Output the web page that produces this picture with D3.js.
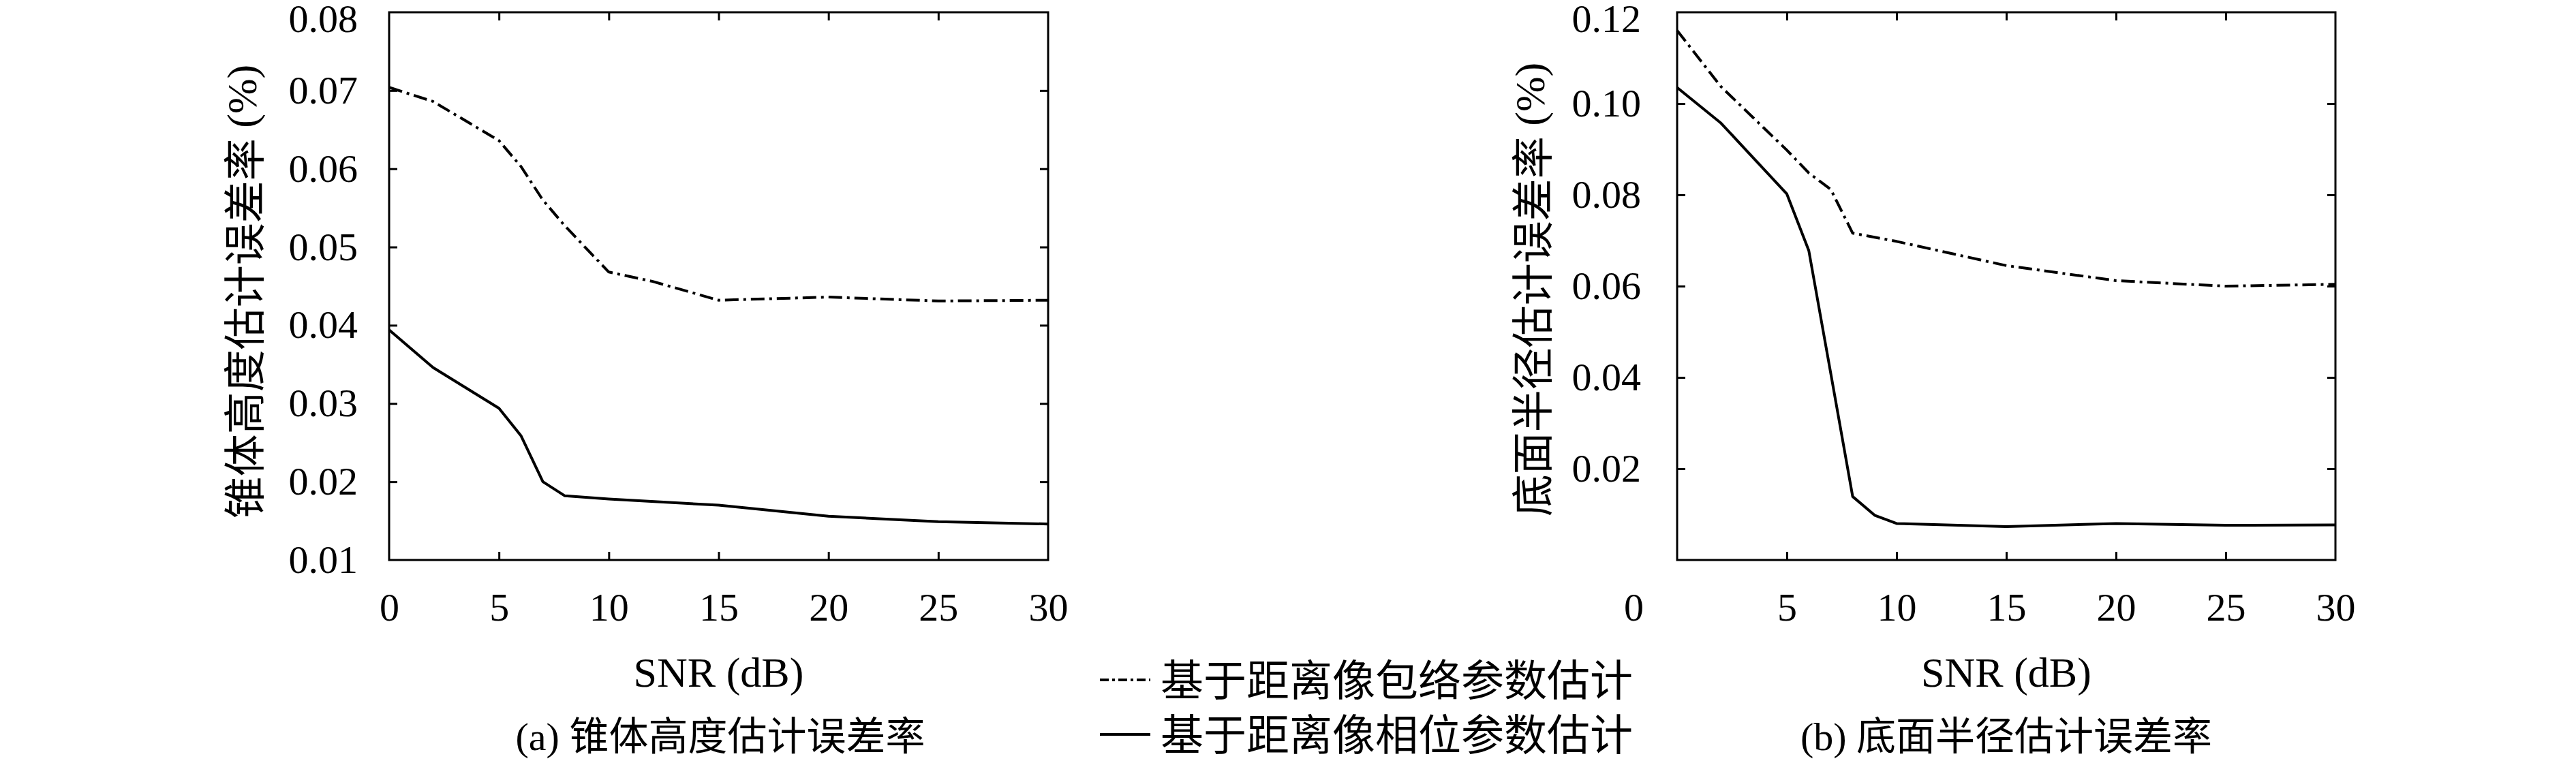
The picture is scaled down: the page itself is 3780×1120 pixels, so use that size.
<!DOCTYPE html>
<html>
  <head>
    <meta charset="utf-8">
    <script src="https://d3js.org/d3.v7.min.js"></script>
    <style>
      body { margin: 0; background: #fff; }
      .tick text { font-family: "Liberation Serif", serif; font-size: 58px; fill: #000; }
      .tick line { stroke: #000; stroke-width: 3px; }
      .frame { fill: none; stroke: #000; stroke-width: 3px; }
      .line { fill: none; stroke: #000; stroke-width: 4px; stroke-linejoin: round; }
      .envelope { stroke-dasharray: 20,7,4,7; }
      .serif { font-family: "Liberation Serif", serif; }
      .cjk { font-family: "Noto Sans CJK SC", sans-serif; }
    </style>
  </head>
  <body>
    <svg width="3780" height="1120"></svg>
    <script>
    // data
    var xTicks = [0, 5, 10, 15, 20, 25, 30];
    var yTicksA = [0.01, 0.02, 0.03, 0.04, 0.05, 0.06, 0.07, 0.08];
    var yTicksB = [0, 0.02, 0.04, 0.06, 0.08, 0.10, 0.12];

    var snrA_env = [0, 2, 5, 6, 7, 8, 10, 12, 15, 20, 25, 30];
    var errA_env = [0.0704, 0.0686, 0.0636, 0.0603, 0.0560, 0.0527, 0.0468, 0.0456, 0.0432, 0.0436, 0.0431, 0.0432];
    var snrA_phase = [0, 2, 5, 6, 7, 8, 10, 15, 20, 25, 30];
    var errA_phase = [0.0394, 0.0346, 0.0294, 0.0259, 0.0200, 0.0182, 0.0178, 0.0170, 0.0156, 0.0149, 0.0146];

    var snrB_env = [0, 2, 5, 6, 7, 8, 10, 15, 20, 25, 30];
    var errB_env = [0.1160, 0.1037, 0.0898, 0.0848, 0.0812, 0.0716, 0.0698, 0.0645, 0.0612, 0.0600, 0.0604];
    var snrB_phase = [0, 2, 5, 6, 7, 8, 9, 10, 15, 20, 25, 30];
    var errB_phase = [0.1035, 0.0957, 0.0802, 0.0678, 0.0409, 0.0139, 0.0098, 0.0080, 0.0073, 0.0080, 0.0076, 0.0077];

    var legendLabels = ["基于距离像包络参数估计", "基于距离像相位参数估计"];

    var svg = d3.select("svg");
    svg.append("rect").attr("width", 3780).attr("height", 1120).attr("fill", "#fff");

    function zip(xs, ys) {
      return xs.map(function(d, i) { return {snr: d, err: ys[i]}; });
    }

    function panel(p) {
      var width = p.x1 - p.x0, height = 822 - 18;
      var g = svg.append("g").attr("transform", "translate(" + p.x0 + ",18)");

      var x = d3.scaleLinear().domain([0, 30]).range([0, width]),
          y = d3.scaleLinear().domain(p.yDomain).range([height, 0]);

      var line = d3.line()
                   .x(function(d) { return x(d.snr); })
                   .y(function(d) { return y(d.err); });

      // bottom axis with labels, ticks pointing in
      var xb = g.append("g")
          .attr("transform", "translate(0," + height + ")")
          .call(d3.axisBottom(x).tickValues(xTicks).tickSize(-12).tickSizeOuter(0).tickPadding(48));
      xb.selectAll(".tick line").filter(function(d) { return d === 0 || d === 30; }).remove();
      if (p.zeroShift) {
        xb.selectAll(".tick text").filter(function(d) { return d === 0; })
          .attr("x", p.zeroShift);
      }

      g.append("g")
          .call(d3.axisTop(x).tickValues(xTicks.slice(1, -1)).tickSize(-12).tickSizeOuter(0).tickFormat(""));

      var yl = g.append("g")
          .call(d3.axisLeft(y).tickValues(p.yTicks).tickSize(-12).tickSizeOuter(0)
                .tickPadding(p.yPad).tickFormat(d3.format(".2f")));
      if (p.hideZero) {
        yl.selectAll(".tick text").filter(function(d) { return d === 0; }).remove();
      }
      yl.selectAll(".tick text").filter(function(d) { return d === p.yDomain[1]; })
        .attr("dy", "0.32em").attr("y", 10);

      g.append("g")
          .attr("transform", "translate(" + width + ",0)")
          .call(d3.axisRight(y).tickValues(p.yTicks).tickSize(-12).tickSizeOuter(0).tickFormat(""));

      g.selectAll(".domain").remove();
      g.selectAll(".tick line").filter(function(d) {
        return d === p.yDomain[0] || d === p.yDomain[1];
      }).remove();

      g.append("rect").attr("class", "frame").attr("width", width).attr("height", height);

      g.append("path").datum(zip(p.envX, p.envY))
          .attr("class", "line envelope")
          .attr("d", line);
      g.append("path").datum(zip(p.phX, p.phY))
          .attr("class", "line")
          .attr("d", line);

      // axis titles
      g.append("text")
          .attr("class", "serif")
          .attr("x", width / 2).attr("y", 1008 - 18)
          .attr("text-anchor", "middle")
          .attr("font-size", 62)
          .text("SNR (dB)");

      var yt = g.append("text")
          .attr("transform", "translate(" + (p.yLabelX - p.x0) + "," + (p.yLabelY - 18) + ") rotate(-90)")
          .attr("text-anchor", "middle")
          .attr("dominant-baseline", "central")
          .attr("font-size", 62);
      yt.append("tspan").attr("class", "cjk").text(p.yLabel);
      yt.append("tspan").attr("class", "serif").text(" (%)");

      var cap = svg.append("text")
          .attr("x", p.capX).attr("y", 1101)
          .attr("text-anchor", "middle")
          .attr("font-size", 58);
      cap.append("tspan").attr("class", "serif").text(p.capTag + " ");
      cap.append("tspan").attr("class", "cjk").text(p.caption);
    }

    panel({x0: 571, x1: 1538, yDomain: [0.01, 0.08], yTicks: yTicksA, yPad: 46,
           envX: snrA_env, envY: errA_env, phX: snrA_phase, phY: errA_phase,
           yLabel: "锥体高度估计误差率", yLabelX: 355, yLabelY: 428,
           capTag: "(a)", caption: "锥体高度估计误差率", capX: 1057});

    panel({x0: 2461, x1: 3427, yDomain: [0, 0.12], yTicks: yTicksB, yPad: 53, hideZero: true,
           zeroShift: -64,
           envX: snrB_env, envY: errB_env, phX: snrB_phase, phY: errB_phase,
           yLabel: "底面半径估计误差率", yLabelX: 2245, yLabelY: 425,
           capTag: "(b)", caption: "底面半径估计误差率", capX: 2944});

    // legend between the panels
    var legend = svg.append("g").selectAll("g")
        .data(legendLabels)
        .enter().append("g")
        .attr("transform", function(d, i) { return "translate(1614," + (998 + i * 80) + ")"; });

    legend.append("line")
        .attr("x1", 0).attr("x2", 74)
        .attr("stroke", "#000").attr("stroke-width", 4)
        .attr("stroke-dasharray", function(d, i) { return i === 0 ? "13,5,4,5" : null; });

    legend.append("text")
        .attr("class", "cjk")
        .attr("x", 89).attr("y", 23)
        .attr("font-size", 63)
        .text(function(d) { return d; });
    </script>
  </body>
</html>
